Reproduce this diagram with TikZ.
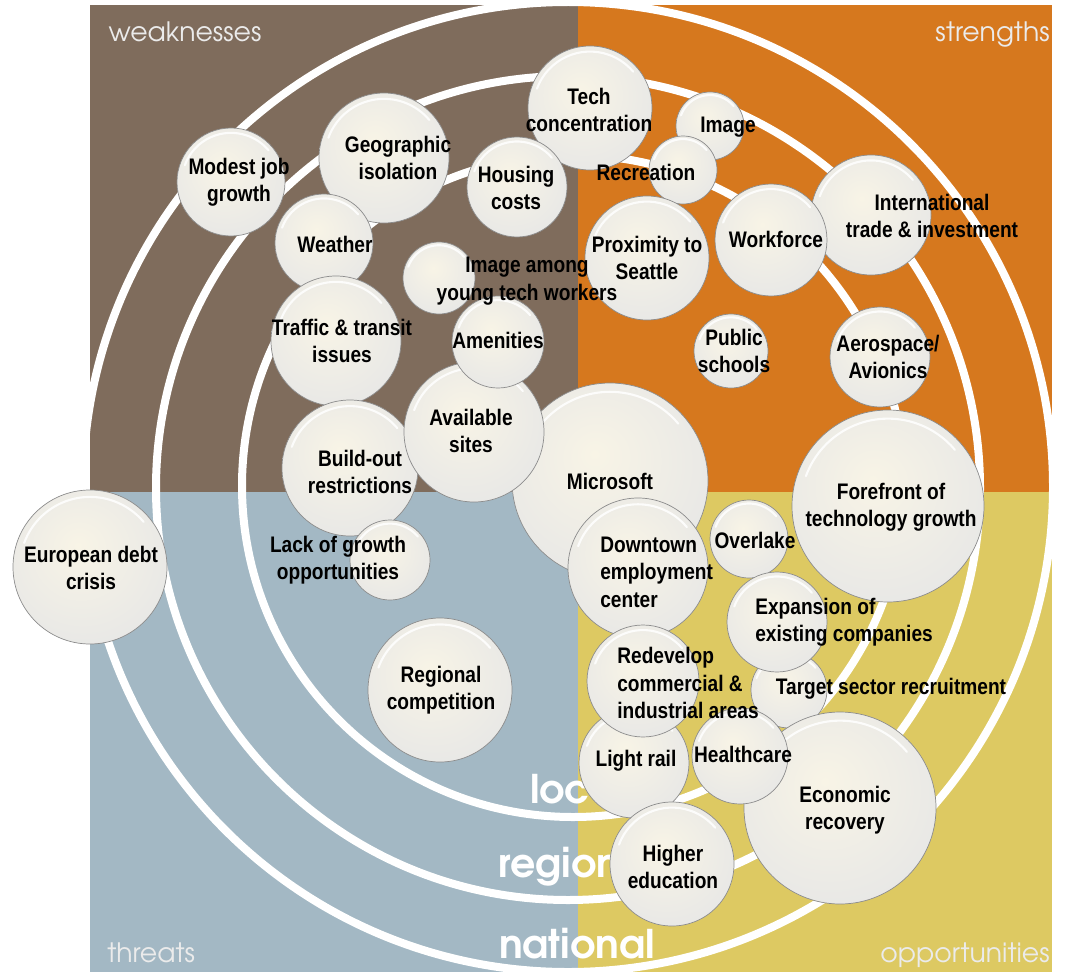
\documentclass[tikz,border=0pt]{standalone}
\usepackage{fontspec}
\setmainfont{Liberation Sans}
\newfontfamily\bubfont{Liberation Sans}[FakeStretch=0.85]
\newfontfamily\gothic{TeX Gyre Adventor}

\definecolor{weakbg}{HTML}{7F6C5C}
\definecolor{strbg}{HTML}{D6781E}
\definecolor{thrbg}{HTML}{A3B8C4}
\definecolor{oppbg}{HTML}{DDC962}
\definecolor{bubcore}{HTML}{F8F4E6}
\definecolor{bubmid}{HTML}{E7E7E6}
\definecolor{bubedge}{HTML}{CDCDCD}
\definecolor{bubrim}{HTML}{777777}

\pgfdeclareradialshading{bubble}{\pgfpoint{-4bp}{7bp}}{%
  color(0bp)=(bubcore); color(16bp)=(bubcore!50!bubmid);
  color(32bp)=(bubmid); color(43bp)=(bubedge);
  color(49bp)=(bubedge!55!bubrim); color(54bp)=(bubrim);
  color(62bp)=(bubrim!75!black)}

\tikzset{
  ring/.style={draw=white, line width=1.6mm},
  bubble/.style={circle, inner sep=0pt, shading=bubble, draw=black!45, line width=.4pt},
  gloss/.style={white, line width=1.2pt, opacity=.85, line cap=round},
  txt/.style={font=\bubfont\bfseries\fontsize{12.8}{15.6}\selectfont, align=center, inner sep=0pt},
  quad/.style={font=\gothic\fontsize{15.2}{17}\selectfont, text=white!92!black, inner sep=0pt},
  zone/.style={font=\gothic\bfseries\fontsize{22.5}{26}\selectfont, text=white, inner sep=0pt}
}

\begin{document}
\begin{tikzpicture}[x=0.2mm, y=-0.2mm]
\useasboundingbox (0,0) rectangle (1074,977);

% quadrants
\fill[weakbg] (90,5) rectangle (578,492);
\fill[strbg] (578,5) rectangle (1052,492);
\fill[thrbg] (90,492) rectangle (578,972);
\fill[oppbg] (578,492) rectangle (1052,972);

% national / regional / local rings
\begin{scope}
  \clip (90,5) rectangle (1052,972);
  \draw[ring] (568,487) circle (485);
  \draw[ring] (568,488) circle (412);
  \draw[ring] (573,486) circle (331);
\end{scope}

\node[quad, anchor=base] (weak) at (185,42) {weaknesses};
\node[quad, anchor=base east] (str) at (1050,42) {strengths};
\node[quad, anchor=base west] (thr) at (107,962) {threats};
\node[quad, anchor=base east] (opp) at (1050,962) {opportunities};

\node[zone, anchor=base] (local) at (578,803) {local};
\node[zone, anchor=base] (regional) at (577,877) {regional};
\node[zone, anchor=base] (national) at (577,958) {national};

% bubbles, back to front
\foreach \n/\x/\y/\r in {
  european/90/567/77, modest/231/182/54, geo/384/158/65, tech/590/108/62,
  housing/517/187/50, weather/324/243/49, traffic/336/341/65,
  imgyoung/439/278/36, microsoft/610/481/98, buildout/350/468/68,
  available/474/432/70, amenities/498/342/46, lackgrowth/390/560/40,
  regcomp/440/690/72, image/710/126/34, recreation/683/170/34,
  proximity/647/258/62, intl/871/215/60, workforce/771/240/56,
  schools/731/351/37, aerospace/880/357/50, forefront/888/506/96,
  overlake/749/539/39, downtown/638/568/70, target/789/690/38,
  expansion/777/622/50, economic/840/808/96, lightrail/634/763/55,
  healthcare/740/756/48, redevelop/643/681/56, higher/672/864/62}
{
  \node[bubble, minimum size=\r*0.4mm] (\n) at (\x,\y) {};
  \draw[gloss] (\x,\y) ++(-160:0.91*\r) arc[start angle=-160, end angle=-40, radius=0.91*\r];
}

% labels
\node[txt] (t-modest) at (239,182) {Modest job\\growth};
\node[txt] (t-geo) at (398,158) {Geographic\\isolation};
\node[txt] (t-housing) at (516,188) {Housing\\costs};
\node[txt] (t-weather) at (335,244) {Weather};
\node[txt] (t-imgyoung) at (527,281) {Image among\\young tech workers};
\node[txt] (t-traffic) at (342,341) {Traffic \& transit\\issues};
\node[txt] (t-amenities) at (498,340) {Amenities};
\node[txt] (t-available) at (471,431) {Available\\sites};
\node[txt] (t-buildout) at (360,472) {Build-out\\restrictions};
\node[txt] (t-lackgrowth) at (338,560) {Lack of growth\\opportunities};
\node[txt] (t-european) at (91,568) {European debt\\crisis};
\node[txt] (t-regcomp) at (441,690) {Regional\\competition};
\node[txt] (t-tech) at (589,110) {Tech\\concentration};
\node[txt] (t-image) at (728,127) {Image};
\node[txt] (t-recreation) at (646,172) {Recreation};
\node[txt] (t-proximity) at (647,258) {Proximity to\\Seattle};
\node[txt] (t-workforce) at (776,239) {Workforce};
\node[txt] (t-intl) at (932,216) {International\\trade \& investment};
\node[txt] (t-schools) at (734,351) {Public\\schools};
\node[txt] (t-aerospace) at (888,357) {Aerospace/\\Avionics};
\node[txt] (t-microsoft) at (610,481) {Microsoft};
\node[txt] (t-forefront) at (891,507) {Forefront of\\technology growth};
\node[txt, align=left, anchor=west] (t-downtown) at (600,572) {Downtown\\employment\\center};
\node[txt] (t-overlake) at (755,540) {Overlake};
\node[txt, align=left, anchor=west] (t-expansion) at (755,622) {Expansion of\\existing companies};
\node[txt, align=left, anchor=west] (t-redevelop) at (617,683) {Redevelop\\commercial \&\\industrial areas};
\node[txt] (t-target) at (891,689) {Target sector recruitment};
\node[txt] (t-lightrail) at (636,761) {Light rail};
\node[txt] (t-healthcare) at (743,754) {Healthcare};
\node[txt] (t-economic) at (845,810) {Economic\\recovery};
\node[txt] (t-higher) at (673,867) {Higher\\education};
\end{tikzpicture}
\end{document}
